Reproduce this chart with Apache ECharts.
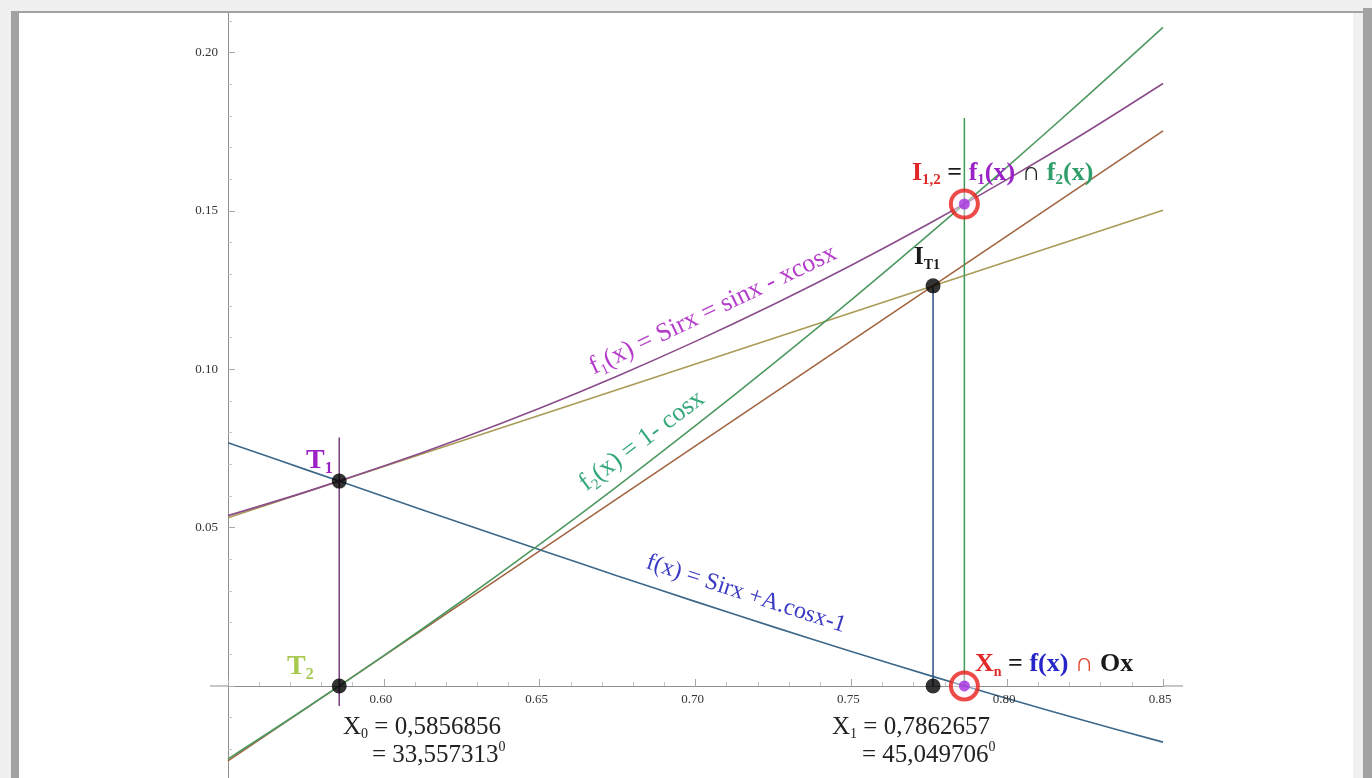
<!DOCTYPE html>
<html>
<head>
<meta charset="utf-8">
<script src="https://cdn.jsdelivr.net/npm/echarts@6/dist/echarts.min.js"></script>
<style>
  html, body { margin: 0; padding: 0; width: 1372px; height: 778px; overflow: hidden; background: #f0f0f0; }
  #bar-top   { position: absolute; left: 11px; top: 11px; width: 1352px; height: 2px; background: #a2a2a2; }
  #bar-left  { position: absolute; left: 11px; top: 11px; width: 8px; height: 767px; background: #a2a2a2; }
  #bar-right { position: absolute; left: 1363px; top: 8px; width: 9px; height: 770px; background: #a2a2a2; }
  #sheet { position: absolute; left: 19px; top: 13px; width: 1334px; height: 765px; overflow: hidden; background: #fff; }
  #chart { position: absolute; left: -19px; top: -133px; width: 1372px; height: 980px; }
</style>
</head>
<body>
<div id="bar-top"></div>
<div id="bar-left"></div>
<div id="bar-right"></div>
<div id="sheet"><div id="chart"></div></div>
<script>
// Sampled curves on [0.55, 0.85]
const xs      = [0.55, 0.575, 0.60, 0.625, 0.65, 0.675, 0.70, 0.725, 0.75, 0.775, 0.80, 0.825, 0.85];
const f1Vals  = [0.05380, 0.06130, 0.06944, 0.07825, 0.08773, 0.09792, 0.10883, 0.12047, 0.13287, 0.14604, 0.15999, 0.17474, 0.19029];
const f2Vals  = [-0.02303, -0.00703, 0.00960, 0.02684, 0.04470, 0.06315, 0.08219, 0.10180, 0.12197, 0.14269, 0.16395, 0.18573, 0.20802];
const fVals   = [0.07683, 0.06833, 0.05984, 0.05140, 0.04303, 0.03477, 0.02664, 0.01867, 0.01090, 0.00335, -0.00396, -0.01099, -0.01773];

// Tangent lines through T1 (to f1) and T2 (to f2)
const tangentXs     = [0.55, 0.85];
const tangentF1Vals = [0.05315, 0.15027];
const tangentF2Vals = [-0.02367, 0.17533];

// Key abscissas
const rootX0 = 0.5856856;
const rootX1 = 0.7862657;
const crossT = 0.77622;

// Marked points
const blackDotXs = [rootX0, rootX0, crossT, crossT];
const blackDotYs = [0.0647, 0, 0.12638, 0];
const ringXs = [rootX1, rootX1];
const ringYs = [0.15222, 0];

// Vertical guides
const guideX0Ys = [0.0785, -0.0063];
const guideTYs  = [0.12638, 0];
const guideX1Ys = [0.1794, 0];

// Tick labels shown on the axes
const xTickLabels = ['0.60', '0.65', '0.70', '0.75', '0.80', '0.85'];
const yTickLabels = ['0.05', '0.10', '0.15', '0.20'];

const SERIF = '"Liberation Serif", "Times New Roman", "DejaVu Serif", serif';
const OFFSET_Y = 120; // chart canvas starts 120px above the page top

const pairs = (xa, ya) => xa.map((x, i) => [x, ya[i]]);
const vline = (x, ya) => ya.map(y => [x, y]);

function curve(data, color, width, smooth) {
  return {
    type: 'line', data: data, smooth: smooth ? 0.35 : false,
    symbol: 'none', showSymbol: false, silent: true, animation: false, z: 2,
    lineStyle: { color: color, width: width }
  };
}

const chart = echarts.init(document.getElementById('chart'), null, { renderer: 'canvas' });

chart.setOption({
  animation: false,
  backgroundColor: 'transparent',
  grid: { left: 228, right: 209, top: 14.4, bottom: 15.7, containLabel: false, outerBoundsMode: 'none' },
  xAxis: {
    type: 'value', min: 0.55, max: 0.85, interval: 0.05,
    axisLine: { onZero: true, lineStyle: { color: '#8f8f8f', width: 1 } },
    axisTick: { show: true, inside: true, length: 7, lineStyle: { color: '#a8a8a8' } },
    minorTick: { show: true, splitNumber: 5, length: 4, lineStyle: { color: '#c4c4c4' } },
    splitLine: { show: false },
    axisLabel: { show: false }
  },
  yAxis: {
    type: 'value', min: -0.05, max: 0.25, interval: 0.05,
    axisLine: { show: true, onZero: false, lineStyle: { color: '#8f8f8f', width: 1 } },
    axisTick: { show: true, inside: true, length: 7, lineStyle: { color: '#a8a8a8' } },
    minorTick: { show: true, splitNumber: 5, length: 4, lineStyle: { color: '#c4c4c4' } },
    splitLine: { show: false },
    axisLabel: {
      margin: 10, color: '#333333', fontFamily: SERIF, fontSize: 13,
      formatter: v => { const s = v.toFixed(2); return yTickLabels.includes(s) ? s : ''; }
    }
  },
  series: [
    curve(pairs(tangentXs, tangentF1Vals), '#a89a55', 1.5, false),
    curve(pairs(tangentXs, tangentF2Vals), '#a0623e', 1.5, false),
    curve(pairs(xs, fVals), '#3d6889', 1.6, true),
    curve(pairs(xs, f1Vals), '#8a4c8a', 1.6, true),
    curve(pairs(xs, f2Vals), '#4d9960', 1.6, true),
    curve(vline(rootX0, guideX0Ys), '#7a3c82', 1.5, false),
    curve(vline(crossT, guideTYs), '#2f4f86', 1.5, false),
    curve(vline(rootX1, guideX1Ys), '#3d9a55', 1.5, false),
    {
      type: 'scatter', data: pairs(blackDotXs, blackDotYs), symbolSize: 15, silent: true, z: 6,
      itemStyle: { color: '#000000' }
    },
    {
      type: 'scatter', data: pairs(ringXs, ringYs), symbolSize: 27, silent: true, z: 6,
      itemStyle: { color: 'rgba(255,240,255,0.55)', borderColor: '#e81e1a', borderWidth: 4 }
    },
    {
      type: 'scatter', data: pairs(ringXs, ringYs), symbolSize: 11, silent: true, z: 7,
      itemStyle: { color: '#a52de0' }
    }
  ]
});

// Rich-text token styles
function tok(size, color, weight, pos) {
  const st = { fontFamily: SERIF, fontSize: size, fontWeight: weight || 'normal', fill: color, color: color };
  if (pos === 'sub') { st.verticalAlign = 'bottom'; st.lineHeight = Math.round(size * 0.75); }
  else if (pos === 'sup') { st.verticalAlign = 'top'; st.lineHeight = Math.round(size * 1.0); }
  else { st.lineHeight = Math.round(size * 1.15); }
  return st;
}

function label(x, y, text, rich, rotDeg) {
  const rotated = rotDeg !== undefined;
  return {
    type: 'text', x: x, y: y + OFFSET_Y, z: 50, silent: true,
    rotation: rotated ? rotDeg * Math.PI / 180 : 0,
    style: { text: text, rich: rich, align: rotated ? 'center' : 'left', verticalAlign: 'middle' }
  };
}

const PURPLE = '#9b22c6', RED = '#e02828', GREEN = '#2f9e6a', BLUE = '#2626c8', DARK = '#1a1a1a';

const toPx = v => chart.convertToPixel({ xAxisIndex: 0, yAxisIndex: 0 }, v);
const p0 = toPx([0.55, 0]);
const p1 = toPx([0.85, 0]);

// x tick labels placed below the zero line through the x scale
const xLabelEls = xTickLabels.map(s => {
  const p = toPx([parseFloat(s), 0]);
  return {
    type: 'text', x: p[0] - 3, y: p[1] + 14, z: 3, silent: true,
    style: { text: s, fontFamily: SERIF, fontSize: 13, fill: '#333333', align: 'center', verticalAlign: 'middle' }
  };
});

chart.setOption({
  graphic: [
    // axis overhang past the plotted range
    { type: 'line', z: 1, silent: true, shape: { x1: p0[0] - 18, y1: p0[1], x2: p0[0], y2: p0[1] }, style: { stroke: '#8f8f8f', lineWidth: 1 } },
    { type: 'line', z: 1, silent: true, shape: { x1: p1[0], y1: p1[1], x2: p1[0] + 20, y2: p1[1] }, style: { stroke: '#8f8f8f', lineWidth: 1 } },
    ...xLabelEls,

    label(306, 461, '{a|T}{b|1}', { a: tok(28, PURPLE, 'bold'), b: tok(16, PURPLE, 'bold', 'sub') }),
    label(287, 667, '{a|T}{b|2}', { a: tok(28, '#a6c94e', 'bold'), b: tok(16, '#a6c94e', 'bold', 'sub') }),
    label(914, 258, '{a|I}{b|T1}', { a: tok(25, DARK, 'bold'), b: tok(14, DARK, 'bold', 'sub') }),

    label(912, 173, '{r|I}{rs|1,2}{k| = }{p|f}{ps|1}{p|(x)}{k| \u2229 }{g|f}{gs|2}{g|(x)}', {
      r: tok(26, RED, 'bold'), rs: tok(15, RED, 'bold', 'sub'),
      k: tok(26, DARK, 'bold'),
      p: tok(26, PURPLE, 'bold'), ps: tok(15, PURPLE, 'bold', 'sub'),
      g: tok(26, GREEN, 'bold'), gs: tok(15, GREEN, 'bold', 'sub')
    }),
    label(975, 664, '{r|X}{rs|n}{k| = }{b|f(x)}{o| \u2229 }{k|Ox}', {
      r: tok(26, RED, 'bold'), rs: tok(14, RED, 'bold', 'sub'),
      k: tok(26, DARK, 'bold'), b: tok(26, BLUE, 'bold'), o: tok(26, '#e0402a', 'bold')
    }),

    label(343, 727, '{a|X}{b|0}{a| = 0,5856856}', { a: tok(25, '#222'), b: tok(14, '#222', 'normal', 'sub') }),
    label(372, 755, '{a|= 33,557313}{c|0}', { a: tok(25, '#222'), c: tok(14, '#222', 'normal', 'sup') }),
    label(832, 727, '{a|X}{b|1}{a| = 0,7862657}', { a: tok(25, '#222'), b: tok(14, '#222', 'normal', 'sub') }),
    label(862, 755, '{a|= 45,049706}{c|0}', { a: tok(25, '#222'), c: tok(14, '#222', 'normal', 'sup') }),

    label(713, 310, '{a|f}{b|1}{a|(x) = Sirx = sinx - xcosx}',
      { a: tok(26, '#b53ccb'), b: tok(15, '#b53ccb', 'normal', 'sub') }, 25.5),
    label(642, 441, '{a|f}{b|2}{a|(x) = 1- cosx}',
      { a: tok(26, '#35a87a'), b: tok(15, '#35a87a', 'normal', 'sub') }, 37),
    label(746, 594, '{a|f(x) = Sirx +A.cosx-1}',
      { a: tok(24, '#3a3ac4') }, -18)
  ]
});
</script>
</body>
</html>
